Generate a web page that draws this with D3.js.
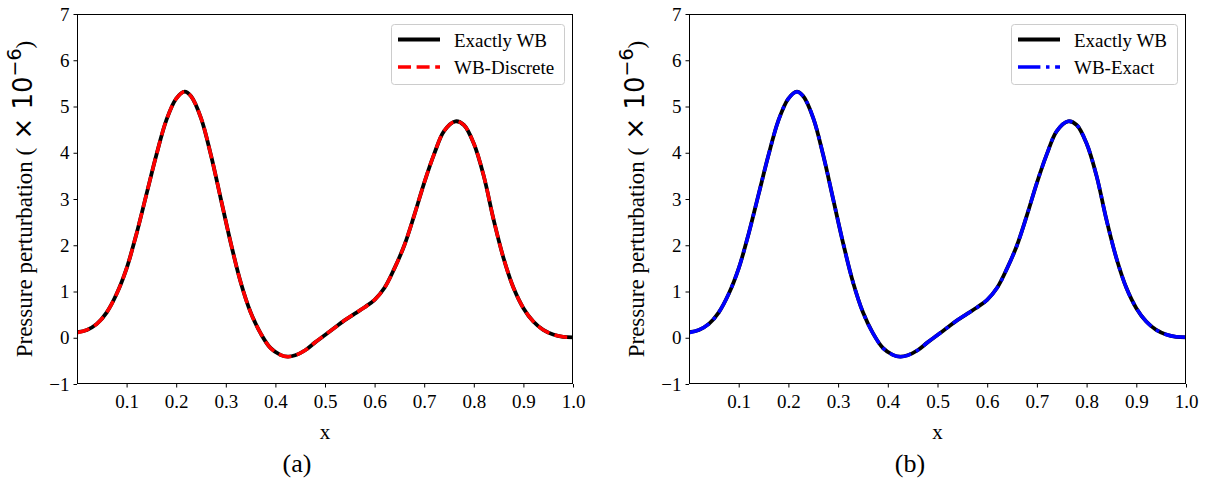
<!DOCTYPE html>
<html>
<head>
<meta charset="utf-8">
<script src="https://cdn.jsdelivr.net/npm/d3@7"></script>
<style>
  html, body { margin: 0; padding: 0; background: #fff; }
  svg { display: block; }
</style>
</head>
<body>
<svg id="chart" width="1212" height="481"></svg>
<script>
// ---- data ----
const xValues = [0.000, 0.020, 0.040, 0.060, 0.080, 0.100, 0.120, 0.140, 0.160, 0.180,
  0.200, 0.217, 0.230, 0.250, 0.270, 0.290, 0.310, 0.330, 0.350, 0.370,
  0.390, 0.410, 0.425, 0.440, 0.460, 0.480, 0.500, 0.520, 0.540, 0.560,
  0.580, 0.600, 0.620, 0.640, 0.660, 0.680, 0.700, 0.720, 0.740, 0.763,
  0.780, 0.800, 0.820, 0.840, 0.860, 0.880, 0.900, 0.920, 0.940, 0.960,
  0.980, 1.000];
const exactlyWB = [0.12, 0.17, 0.30, 0.55, 0.95, 1.50, 2.25, 3.10, 3.95, 4.70,
  5.17, 5.32, 5.22, 4.75, 3.95, 3.00, 2.05, 1.20, 0.55, 0.10,
  -0.22, -0.37, -0.41, -0.38, -0.27, -0.10, 0.06, 0.22, 0.38, 0.52,
  0.66, 0.82, 1.08, 1.50, 2.00, 2.65, 3.35, 3.97, 4.47, 4.68,
  4.60, 4.20, 3.50, 2.55, 1.72, 1.08, 0.64, 0.35, 0.17, 0.07,
  0.02, 0.01];
const wbDiscrete = [0.11, 0.17, 0.30, 0.55, 0.95, 1.50, 2.25, 3.10, 3.95, 4.70,
  5.17, 5.32, 5.22, 4.75, 3.95, 3.00, 2.05, 1.20, 0.55, 0.10,
  -0.22, -0.37, -0.41, -0.38, -0.27, -0.10, 0.06, 0.22, 0.38, 0.52,
  0.66, 0.82, 1.08, 1.50, 2.00, 2.65, 3.35, 3.97, 4.47, 4.68,
  4.60, 4.20, 3.50, 2.55, 1.72, 1.08, 0.64, 0.35, 0.17, 0.07,
  0.02, 0.01];
const wbExact = [0.11, 0.17, 0.30, 0.55, 0.95, 1.50, 2.25, 3.10, 3.95, 4.70,
  5.17, 5.32, 5.22, 4.75, 3.95, 3.00, 2.05, 1.20, 0.55, 0.10,
  -0.22, -0.37, -0.41, -0.38, -0.27, -0.10, 0.06, 0.22, 0.38, 0.52,
  0.66, 0.82, 1.08, 1.50, 2.00, 2.65, 3.35, 3.97, 4.47, 4.68,
  4.60, 4.20, 3.50, 2.55, 1.72, 1.08, 0.64, 0.35, 0.17, 0.07,
  0.02, 0.01];
const xTicks = [0.1, 0.2, 0.3, 0.4, 0.5, 0.6, 0.7, 0.8, 0.9, 1.0];
const yTicks = [-1, 0, 1, 2, 3, 4, 5, 6, 7];
const legendLabels = [["Exactly WB", "WB-Discrete"], ["Exactly WB", "WB-Exact"]];
const panelLabels = ["(a)", "(b)"];

// ---- layout ----
const panels = [
  { left: 77, right: 573, second: wbDiscrete, color: "#ff0000", dash: "13,5.6",
    legend: { x: 391, w: 173 }, caption: 297 },
  { left: 689, right: 1186, second: wbExact, color: "#0000ff", dash: "22.4,5.6,3.5,5.6",
    legend: { x: 1011, w: 166 }, caption: 910 }
];
const plotTop = 14, plotBottom = 384;
const serif = "'Liberation Serif', 'Times New Roman', serif";
const sans = "'DejaVu Sans', sans-serif";
const svg = d3.select("#chart");

panels.forEach((p, i) => {
  const x = d3.scaleLinear().domain([0, 1]).range([p.left, p.right]);
  const y = d3.scaleLinear().domain([-1, 7]).range([plotBottom, plotTop]);
  const g = svg.append("g");

  // axes
  const xAxis = d3.axisBottom(x).tickValues(xTicks).tickFormat(d3.format(".1f"))
    .tickSizeInner(3.5).tickSizeOuter(0).tickPadding(4);
  const yAxis = d3.axisLeft(y).tickValues(yTicks).tickFormat(d => d < 0 ? "\u2212" + Math.abs(d) : d)
    .tickSizeInner(3.5).tickSizeOuter(0).tickPadding(4);
  const gx = g.append("g").attr("transform", `translate(0,${plotBottom})`).call(xAxis);
  const gy = g.append("g").attr("transform", `translate(${p.left},0)`).call(yAxis);
  [gx, gy].forEach(a => {
    a.selectAll("text").attr("font-family", serif).attr("font-size", 19).attr("fill", "#000");
    a.selectAll("line").attr("stroke", "#000").attr("stroke-width", 1);
    a.select(".domain").remove();
  });
  gx.selectAll("text").attr("dy", "0.85em");

  // data lines
  const pts1 = xValues.map((v, k) => [v, exactlyWB[k]]);
  const pts2 = xValues.map((v, k) => [v, p.second[k]]);
  const line = d3.line().x(d => x(d[0])).y(d => y(d[1])).curve(d3.curveCatmullRom.alpha(0.5));
  const clipId = "clip" + i;
  g.append("clipPath").attr("id", clipId).append("rect")
    .attr("x", p.left).attr("y", plotTop).attr("width", p.right - p.left).attr("height", plotBottom - plotTop);
  g.append("path").attr("d", line(pts1)).attr("fill", "none").attr("stroke", "#000")
    .attr("stroke-width", 3.8).attr("clip-path", `url(#${clipId})`);
  g.append("path").attr("d", line(pts2)).attr("fill", "none").attr("stroke", p.color)
    .attr("stroke-width", 3.5).attr("stroke-dasharray", p.dash).attr("clip-path", `url(#${clipId})`);

  // frame
  g.append("rect").attr("x", p.left + 0.5).attr("y", plotTop + 0.5)
    .attr("width", p.right - p.left - 1).attr("height", plotBottom - plotTop - 1)
    .attr("fill", "none").attr("stroke", "#000").attr("stroke-width", 1);

  // legend
  const lg = g.append("g");
  lg.append("rect").attr("x", p.legend.x + 0.5).attr("y", 24.5).attr("width", p.legend.w).attr("height", 60)
    .attr("rx", 3).attr("fill", "#fff").attr("fill-opacity", 0.8).attr("stroke", "#cccccc").attr("stroke-width", 1);
  const lx0 = p.legend.x + 7, lx1 = p.legend.x + 49, tx = p.legend.x + 63;
  lg.append("line").attr("x1", lx0).attr("x2", lx1).attr("y1", 39.5).attr("y2", 39.5)
    .attr("stroke", "#000").attr("stroke-width", 3.8);
  lg.append("line").attr("x1", lx0).attr("x2", lx1).attr("y1", 67).attr("y2", 67)
    .attr("stroke", p.color).attr("stroke-width", 3.5).attr("stroke-dasharray", p.dash);
  lg.append("text").attr("x", tx).attr("y", 40).attr("dy", "0.35em").attr("font-family", serif)
    .attr("font-size", 19).text(legendLabels[i][0]);
  lg.append("text").attr("x", tx).attr("y", 67).attr("dy", "0.35em").attr("font-family", serif)
    .attr("font-size", 19).text(legendLabels[i][1]);

  // axis labels
  g.append("text").attr("x", (p.left + p.right) / 2).attr("y", 432).attr("dy", "0.35em")
    .attr("text-anchor", "middle").attr("font-family", serif).attr("font-size", 21).text("x");
  const yl = g.append("text").attr("transform", `translate(${p.left - 53},${(plotTop + plotBottom) / 2}) rotate(-90)`)
    .attr("text-anchor", "middle").attr("dy", "0.35em").attr("font-family", serif).attr("font-size", 23);
  yl.append("tspan").text("Pressure perturbation ");
  yl.append("tspan").text("(");
  yl.append("tspan").attr("font-family", sans).attr("font-size", 26).text("\u00a0\u00d7 10");
  yl.append("tspan").attr("font-family", sans).attr("font-size", 19).attr("dy", "-0.6em").text("\u22126");
  yl.append("tspan").attr("dy", "0.5em").text(")");

  // caption
  g.append("text").attr("x", p.caption).attr("y", 463).attr("dy", "0.35em")
    .attr("text-anchor", "middle").attr("font-family", serif).attr("font-size", 26).text(panelLabels[i]);
});
</script>
</body>
</html>
